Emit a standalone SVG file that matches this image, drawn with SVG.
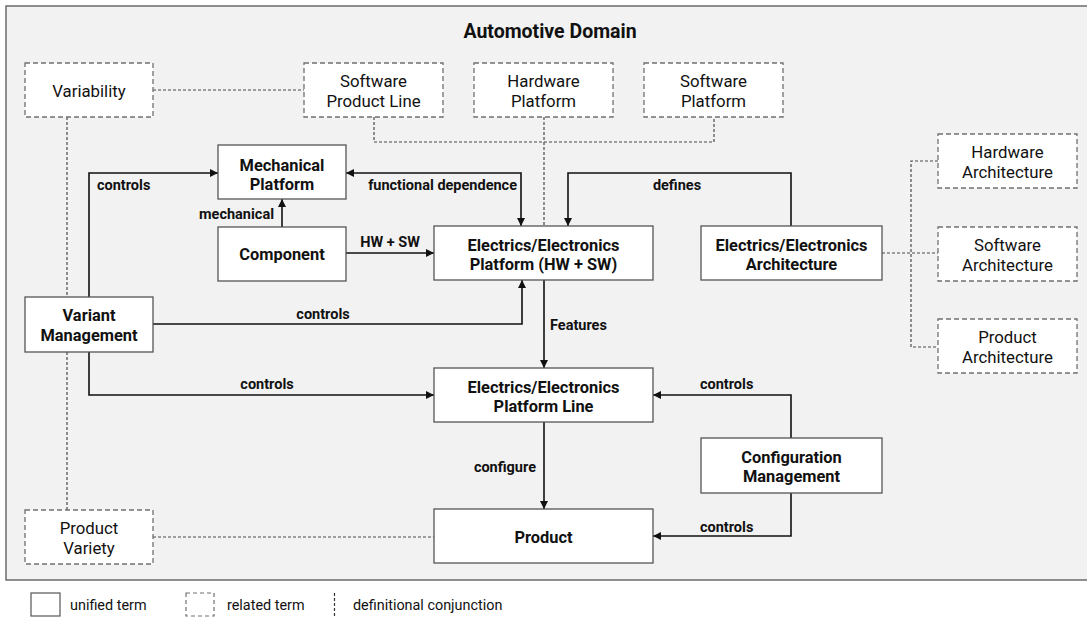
<svg xmlns="http://www.w3.org/2000/svg" width="1087" height="618" viewBox="0 0 1087 618">
<style>
text{font-family:Roboto,"Liberation Sans",sans-serif;fill:#111}
.u{fill:#fff;stroke:#555;stroke-width:1.3}
.r{fill:#fff;stroke:#707070;stroke-width:1.3;stroke-dasharray:5 3}
.nb{font-size:16.4px;font-weight:bold;text-anchor:middle}
.nr{font-size:16.8px;text-anchor:middle}
.el{font-size:14.5px;font-weight:bold}
.c{fill:none;stroke:#111;stroke-width:1.6}
.d{fill:none;stroke:#4a4a4a;stroke-width:1.2;stroke-dasharray:3 2}
.lg{font-size:14.4px}
</style>
<defs>
<marker id="ah" viewBox="0 0 10 10" refX="10" refY="5" markerWidth="9" markerHeight="8" markerUnits="userSpaceOnUse" orient="auto-start-reverse">
<path d="M0,0 L10,5 L0,10 z" fill="#111"/>
</marker>
</defs>
<rect x="6" y="6" width="1090" height="574" fill="#f2f2f2" stroke="#555" stroke-width="1.3"/>
<text x="550" y="38" font-size="19.5" font-weight="bold" text-anchor="middle">Automotive Domain</text>

<g id="connectors">
<path class="d" d="M153,90 H304"/>
<path class="d" d="M374,117 V142 H714 V117"/>
<path class="d" d="M544,117 V226"/>
<path class="d" d="M67,117 V510"/>
<path class="d" d="M153,537 H434"/>
<path class="d" d="M882,253 H938"/>
<path class="d" d="M938,161 H911 V347 H938"/>
<path class="c" d="M89,297 V173 H218" marker-end="url(#ah)"/>
<path class="c" d="M282,227 V199" marker-end="url(#ah)"/>
<path class="c" d="M346,253 H434" marker-end="url(#ah)"/>
<path class="c" d="M346,173 H521 V226" marker-start="url(#ah)" marker-end="url(#ah)"/>
<path class="c" d="M791,226 V173 H568 V226" marker-end="url(#ah)"/>
<path class="c" d="M153,324 H522 V280" marker-end="url(#ah)"/>
<path class="c" d="M89,352 V395 H434" marker-end="url(#ah)"/>
<path class="c" d="M544,280 V368" marker-end="url(#ah)"/>
<path class="c" d="M791,438 V395 H653" marker-end="url(#ah)"/>
<path class="c" d="M791,493 V536 H653" marker-end="url(#ah)"/>
<path class="c" d="M544,422 V509" marker-end="url(#ah)"/>
<text class="el" x="97" y="189.5">controls</text>
<text class="el" x="274" y="219.3" text-anchor="end">mechanical</text>
<text class="el" x="517" y="189.5" text-anchor="end">functional dependence</text>
<text class="el" x="677" y="189.5" text-anchor="middle">defines</text>
<text class="el" x="390" y="247.3" text-anchor="middle">HW + SW</text>
<text class="el" x="323" y="319.3" text-anchor="middle">controls</text>
<text class="el" x="267" y="388.7" text-anchor="middle">controls</text>
<text class="el" x="550" y="330">Features</text>
<text class="el" x="700" y="389">controls</text>
<text class="el" x="536" y="471.7" text-anchor="end">configure</text>
<text class="el" x="700" y="532">controls</text>
</g>

<g id="variability"><rect class="r" x="25" y="63" width="128" height="54"/><text class="nr" x="89" y="97">Variability</text></g>
<g id="software-product-line"><rect class="r" x="304" y="63" width="139" height="54"/><text class="nr" x="373.5" y="87.3">Software</text><text class="nr" x="373.5" y="107.3">Product Line</text></g>
<g id="hardware-platform"><rect class="r" x="474" y="63" width="139" height="54"/><text class="nr" x="543.5" y="87.3">Hardware</text><text class="nr" x="543.5" y="107.3">Platform</text></g>
<g id="software-platform"><rect class="r" x="644" y="63" width="139" height="54"/><text class="nr" x="713.5" y="87.3">Software</text><text class="nr" x="713.5" y="107.3">Platform</text></g>
<g id="mechanical-platform"><rect class="u" x="218" y="145" width="128" height="54"/><text class="nb" x="282" y="170.5">Mechanical</text><text class="nb" x="282" y="190">Platform</text></g>
<g id="component"><rect class="u" x="218" y="227" width="128" height="54"/><text class="nb" x="282" y="260">Component</text></g>
<g id="ee-platform"><rect class="u" x="434" y="226" width="219" height="54"/><text class="nb" x="543.5" y="250.7">Electrics/Electronics</text><text class="nb" x="543.5" y="270">Platform (HW + SW)</text></g>
<g id="ee-architecture"><rect class="u" x="701" y="226" width="181" height="54"/><text class="nb" x="791.5" y="250.7">Electrics/Electronics</text><text class="nb" x="791.5" y="270">Architecture</text></g>
<g id="hardware-architecture"><rect class="r" x="938" y="134" width="139" height="54"/><text class="nr" x="1007.5" y="158.3">Hardware</text><text class="nr" x="1007.5" y="178.3">Architecture</text></g>
<g id="software-architecture"><rect class="r" x="938" y="227" width="139" height="54"/><text class="nr" x="1007.5" y="251.3">Software</text><text class="nr" x="1007.5" y="271.3">Architecture</text></g>
<g id="product-architecture"><rect class="r" x="938" y="319" width="139" height="54"/><text class="nr" x="1007.5" y="343.3">Product</text><text class="nr" x="1007.5" y="363.3">Architecture</text></g>
<g id="variant-management"><rect class="u" x="25" y="297" width="128" height="55"/><text class="nb" x="89" y="320.7">Variant</text><text class="nb" x="89" y="340.5">Management</text></g>
<g id="ee-platform-line"><rect class="u" x="434" y="368" width="219" height="54"/><text class="nb" x="543.5" y="392.7">Electrics/Electronics</text><text class="nb" x="543.5" y="412">Platform Line</text></g>
<g id="configuration-management"><rect class="u" x="701" y="438" width="181" height="55"/><text class="nb" x="791.5" y="462.7">Configuration</text><text class="nb" x="791.5" y="482.3">Management</text></g>
<g id="product"><rect class="u" x="434" y="509" width="219" height="54"/><text class="nb" x="543.5" y="542.5">Product</text></g>
<g id="product-variety"><rect class="r" x="25" y="510" width="128" height="54"/><text class="nr" x="89" y="534.3">Product</text><text class="nr" x="89" y="554.3">Variety</text></g>

<g id="legend">
<rect x="31" y="593" width="29" height="23" fill="#fff" stroke="#555" stroke-width="1.2"/>
<text class="lg" x="70" y="610">unified term</text>
<rect x="186" y="593" width="28" height="23" fill="#fff" stroke="#707070" stroke-width="1.2" stroke-dasharray="4 3"/>
<text class="lg" x="227" y="610">related term</text>
<path d="M334.5,593 V616" stroke="#333" stroke-width="1.2" stroke-dasharray="3 2"/>
<text class="lg" x="353" y="610">definitional conjunction</text>
</g>
</svg>
